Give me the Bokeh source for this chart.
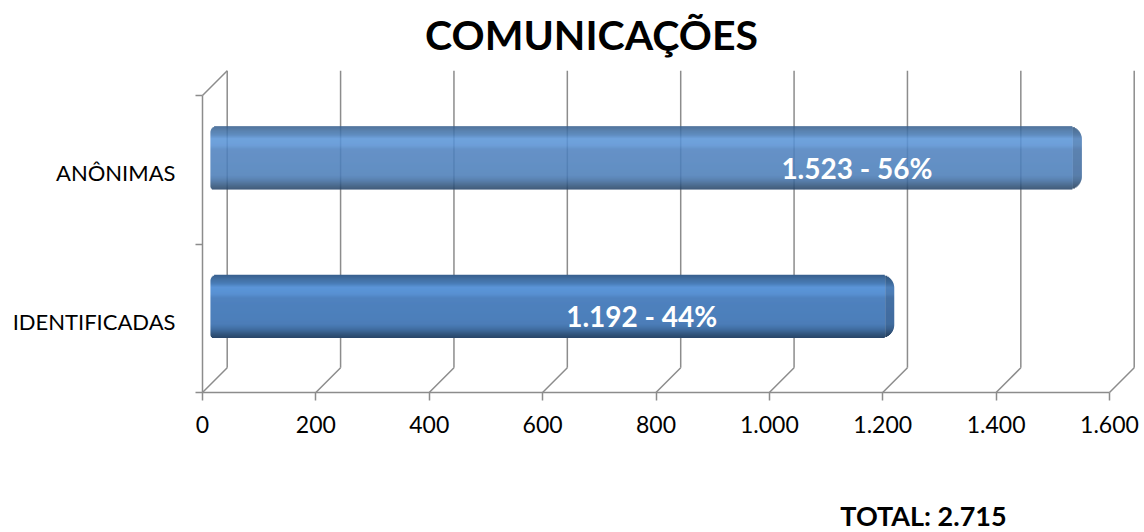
from math import sqrt

from bokeh.plotting import figure
from bokeh.layouts import column
from bokeh.models import Range1d, FixedTicker, ColumnDataSource
from bokeh.core.properties import value
from bokeh.embed import file_html
from bokeh.resources import INLINE

# ---------------- data ----------------
CATEGORIES = ["IDENTIFICADAS", "ANÔNIMAS"]
COUNTS = [1192, 1523]
X_TICKS = [0, 200, 400, 600, 800, 1000, 1200, 1400, 1600]
X_TICK_LABELS = ["0", "200", "400", "600", "800", "1.000", "1.200", "1.400", "1.600"]
TITLE = "COMUNICAÇÕES"

TOTAL = sum(COUNTS)


def fmt_int(n):
    return f"{n:,}".replace(",", ".")


BAR_LABELS = [f"{fmt_int(c)} - {round(100 * c / TOTAL)}%" for c in COUNTS]
TOTAL_TEXT = f"TOTAL: {fmt_int(TOTAL)}"

# ---------------- layout / style ----------------
W = 1144
TOP_H = 66          # title strip height
BOT_H = 70          # total strip height
CH = 532 - TOP_H - BOT_H   # chart figure height
FONT = "Lato"

X0_PX, Y0_PX = 202, 392 - TOP_H   # pixel position of value 0 / floor front (in chart figure)
PX_X = (1109 - 202) / 1600.0      # pixels per value unit
PX_Y = 148.5                      # pixels per category unit
BORDER_L, BORDER_R, BORDER_T = 199, 0, 0
FRAME_B = Y0_PX + 3
BORDER_B = CH - FRAME_B

x_start = -(X0_PX - BORDER_L) / PX_X
x_end = x_start + (W - BORDER_L - BORDER_R) / PX_X
y_start = -(FRAME_B - Y0_PX) / PX_Y
y_end = (Y0_PX - BORDER_T) / PX_Y

DX = 24.7 / PX_X                 # 3-D depth offset
DY = 24.7 / PX_Y
N_CAT = len(CATEGORIES)

GRID_COLOR = "#8c8c8c"
GRID_W = 1.5

BAR_H_PX = 63.0
BAR_H = BAR_H_PX / PX_Y
BAR_SHIFT = 0.08
BAR_LEFT = 8 / PX_X
BAR_RIGHT_EXTRA = 16 / PX_X
R_TR, R_BR, R_TL, R_BL = 13.0, 13.0, 6.0, 3.0
CAP_W = 9.0
N_STRIPS = 63

STOPS = [
    (0.00, "#385f8c"),
    (0.05, "#3f6c9c"),
    (0.14, "#4a7db8"),
    (0.20, "#5b95d8"),
    (0.30, "#5991d3"),
    (0.37, "#4f82bf"),
    (0.78, "#4c7eb9"),
    (0.86, "#426fa3"),
    (0.94, "#33577f"),
    (1.00, "#284468"),
]

LABEL_FRAC = [0.65, 0.758]
LABEL_DY = 0.013
Y_LABEL_DY = -0.02
TITLE_POS = ((591 - X0_PX) / PX_X, 34)                 # (value units, px from strip top)
TOTAL_POS = ((923 - X0_PX) / PX_X, 515 - (532 - BOT_H))


def hex2rgb(h):
    h = h.lstrip("#")
    return tuple(int(h[i:i + 2], 16) for i in (0, 2, 4))


def rgb2hex(c):
    return "#%02x%02x%02x" % tuple(max(0, min(255, int(round(v)))) for v in c)


def interp(f):
    for (f0, c0), (f1, c1) in zip(STOPS[:-1], STOPS[1:]):
        if f0 <= f <= f1:
            t = (f - f0) / (f1 - f0) if f1 > f0 else 0
            a, b = hex2rgb(c0), hex2rgb(c1)
            return rgb2hex([a[i] + (b[i] - a[i]) * t for i in range(3)])
    return STOPS[-1][1]


def darken(h, k):
    return rgb2hex([v * k for v in hex2rgb(h)])


def corner_inset(r, d):
    if d >= r:
        return 0.0
    return r - sqrt(max(r * r - (r - d) ** 2, 0.0))


# ---------------- chart figure ----------------
p = figure(
    width=W, height=CH,
    x_range=Range1d(x_start, x_end), y_range=Range1d(y_start, y_end),
    output_backend="svg", toolbar_location=None,
    min_border_left=BORDER_L, min_border_right=BORDER_R,
    min_border_top=BORDER_T, min_border_bottom=BORDER_B,
)
p.outline_line_color = None
p.grid.visible = False
p.background_fill_color = "white"
p.border_fill_color = "white"


def text_strip(height, txt, pos, size):
    f = figure(width=W, height=height, x_range=p.x_range, y_range=Range1d(height, 0),
               output_backend="svg", toolbar_location=None,
               x_axis_location=None, y_axis_location=None,
               min_border_left=BORDER_L, min_border_right=BORDER_R,
               min_border_top=0, min_border_bottom=0)
    f.outline_line_color = None
    f.grid.visible = False
    f.background_fill_color = "white"
    f.border_fill_color = "white"
    src = ColumnDataSource(dict(x=[pos[0]], y=[pos[1]], t=[txt]))
    f.text(source=src, x="x", y="y", text="t", text_font=value(FONT),
           text_font_size=size, text_font_style="bold", text_color="black",
           text_align="center", text_baseline="middle")
    return f


# ---- 3-D frame: back wall gridlines, floor diagonals, left wall ----
back = dict(x0=[t + DX for t in X_TICKS], y0=[DY] * len(X_TICKS),
            x1=[t + DX for t in X_TICKS], y1=[N_CAT + DY] * len(X_TICKS))
p.segment(source=ColumnDataSource(back), x0="x0", y0="y0", x1="x1", y1="y1",
          line_color=GRID_COLOR, line_width=GRID_W)
floor = dict(x0=list(X_TICKS), y0=[0] * len(X_TICKS),
             x1=[t + DX for t in X_TICKS], y1=[DY] * len(X_TICKS))
p.segment(source=ColumnDataSource(floor), x0="x0", y0="y0", x1="x1", y1="y1",
          line_color=GRID_COLOR, line_width=GRID_W)
wall = dict(x0=[0, 0, X_TICKS[0]], y0=[0, N_CAT, 0],
            x1=[0, DX, X_TICKS[-1]], y1=[N_CAT, N_CAT + DY, 0])
p.segment(source=ColumnDataSource(wall), x0="x0", y0="y0", x1="x1", y1="y1",
          line_color=GRID_COLOR, line_width=GRID_W)

# ---- bars as shaded strips ----
strips = dict(y=[], left=[], right=[], h=[], color=[])
for i, c in enumerate(COUNTS):
    yc = i + 0.5 + BAR_SHIFT
    top = yc + BAR_H / 2
    end = c + BAR_RIGHT_EXTRA
    for k in range(N_STRIPS):
        mid = (k + 0.5) / N_STRIPS
        d_top = mid * BAR_H_PX
        d_bot = (1 - mid) * BAR_H_PX
        ins_r = max(corner_inset(R_TR, d_top), corner_inset(R_BR, d_bot))
        ins_l = max(corner_inset(R_TL, d_top), corner_inset(R_BL, d_bot))
        col = interp(mid)
        ys = top - mid * BAR_H
        hh = BAR_H / N_STRIPS * 1.3
        main_r = end - max(CAP_W, ins_r) / PX_X
        strips["y"].append(ys); strips["h"].append(hh)
        strips["left"].append(BAR_LEFT + ins_l / PX_X)
        strips["right"].append(main_r)
        strips["color"].append(col)
        if ins_r < CAP_W:
            strips["y"].append(ys); strips["h"].append(hh)
            strips["left"].append(end - CAP_W / PX_X)
            strips["right"].append(end - ins_r / PX_X)
            strips["color"].append(darken(col, 0.86))
p.hbar(source=ColumnDataSource(strips), y="y", left="left", right="right",
       height="h", fill_color="color", line_color=None)

# ---- bar labels ----
lab = dict(x=[c * f for c, f in zip(COUNTS, LABEL_FRAC)],
           y=[i + 0.5 + LABEL_DY for i in range(N_CAT)],
           t=BAR_LABELS)
p.text(source=ColumnDataSource(lab), x="x", y="y", text="t",
       text_font=value(FONT), text_font_size="28px", text_font_style="bold",
       text_color="white", text_align="center", text_baseline="middle")

# ---- axes ----
xa = p.xaxis[0]
xa.ticker = FixedTicker(ticks=X_TICKS, minor_ticks=[])
xa.major_label_overrides = {t: l for t, l in zip(X_TICKS, X_TICK_LABELS)}
xa.axis_line_color = None
xa.major_tick_in = 3
xa.major_tick_out = 5
xa.major_tick_line_color = GRID_COLOR
xa.major_tick_line_width = GRID_W
xa.minor_tick_line_color = None
xa.major_label_text_font = FONT
xa.major_label_text_font_size = "23px"
xa.major_label_text_color = "black"
xa.major_label_standoff = 15

ya = p.yaxis[0]
y_pos = [i + 0.5 + Y_LABEL_DY for i in range(N_CAT)]
ya.ticker = FixedTicker(ticks=y_pos, minor_ticks=list(range(N_CAT + 1)))
ya.major_label_overrides = {t: l for t, l in zip(y_pos, CATEGORIES)}
ya.axis_line_color = None
ya.major_tick_line_color = None
ya.major_tick_in = 0
ya.major_tick_out = 0
ya.minor_tick_in = 3
ya.minor_tick_out = 4
ya.minor_tick_line_color = GRID_COLOR
ya.minor_tick_line_width = GRID_W
ya.major_label_text_font = FONT
ya.major_label_text_font_size = "22px"
ya.major_label_text_color = "black"
ya.major_label_standoff = 20

top_fig = text_strip(TOP_H, TITLE, TITLE_POS, "41px")
bot_fig = text_strip(BOT_H, TOTAL_TEXT, TOTAL_POS, "27px")

layout = column(top_fig, p, bot_fig, spacing=0)
open("out.html", "w").write(file_html(layout, INLINE))
